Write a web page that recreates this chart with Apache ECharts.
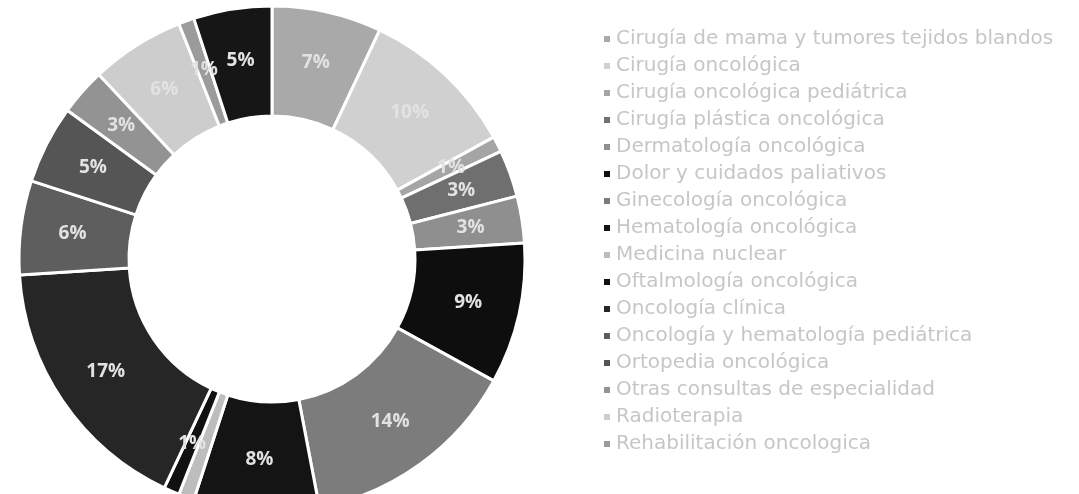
<!DOCTYPE html>
<html>
<head>
<meta charset="utf-8">
<script src="https://cdn.jsdelivr.net/npm/echarts@6/dist/echarts.min.js"></script>
<style>
  html, body { margin: 0; padding: 0; background: #fff; }
  #chart { width: 1079px; height: 494px; }
</style>
</head>
<body>
<div id="chart"></div>
<script>
// categories in legend order (last slice has no legend entry in the original)
const categories = [
  "Cirugía de mama y tumores tejidos blandos",
  "Cirugía oncológica",
  "Cirugía oncológica pediátrica",
  "Cirugía plástica oncológica",
  "Dermatología oncológica",
  "Dolor y cuidados paliativos",
  "Ginecología oncológica",
  "Hematología oncológica",
  "Medicina nuclear",
  "Oftalmología oncológica",
  "Oncología clínica",
  "Oncología y hematología pediátrica",
  "Ortopedia oncológica",
  "Otras consultas de especialidad",
  "Radioterapia",
  "Rehabilitación oncologica",
  "Urología oncológica"
];
const percents = [7, 10, 1, 3, 3, 9, 14, 8, 1, 1, 17, 6, 5, 3, 6, 1, 5];
const grays = [
  "#a9a9a9", "#d0d0d0", "#a5a5a5", "#6f6f6f", "#8f8f8f", "#0e0e0e",
  "#7c7c7c", "#141414", "#bdbdbd", "#111111", "#262626", "#5e5e5e",
  "#555555", "#939393", "#cdcdcd", "#9b9b9b", "#161616"
];
const legendNames = categories.slice(0, 16);

const chart = echarts.init(document.getElementById("chart"));
const option = {
  animation: false,
  legend: {
    orient: "vertical",
    left: 597,
    top: 24,
    data: legendNames,
    icon: "rect",
    itemWidth: 8,
    itemHeight: 8,
    itemGap: 7,
    textStyle: {
      color: "#c6c6c6",
      fontFamily: "DejaVu Sans",
      fontSize: 20,
      lineHeight: 20
    }
  },
  series: [
    {
      type: "pie",
      center: [272, 259],
      radius: [143, 253],
      startAngle: 90,
      clockwise: true,
      avoidLabelOverlap: false,
      itemStyle: {
        borderColor: "#fff",
        borderWidth: 3
      },
      label: {
        show: true,
        position: "inside",
        formatter: "{c}%",
        color: "#e2e2e2",
        fontFamily: "Open Sans",
        fontWeight: "bold",
        fontSize: 19
      },
      labelLine: { show: false },
      data: categories.map((name, i) => ({
        name: name,
        value: percents[i],
        itemStyle: { color: grays[i] }
      }))
    }
  ]
};
chart.setOption(option);
</script>
</body>
</html>
